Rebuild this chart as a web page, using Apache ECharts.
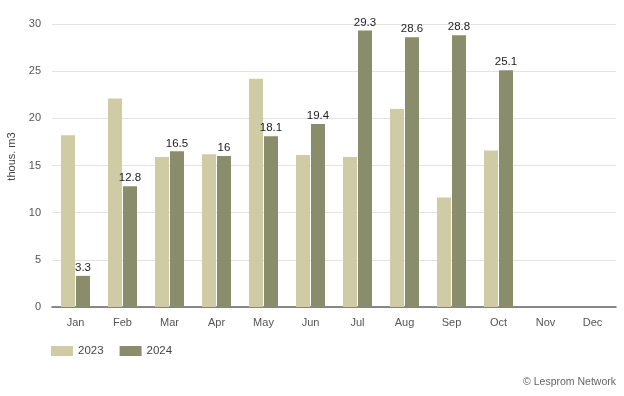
<!DOCTYPE html>
<html><head><meta charset="utf-8">
<script src="https://cdn.jsdelivr.net/npm/echarts@6/dist/echarts.min.js"></script>
<style>html,body{margin:0;padding:0;background:#fff}#c{width:624px;height:396px}</style>
</head><body><div id="c"></div>
<script>
var months = ['Jan','Feb','Mar','Apr','May','Jun','Jul','Aug','Sep','Oct','Nov','Dec'];
var values2023 = [18.2, 22.1, 15.9, 16.2, 24.2, 16.1, 15.9, 21.0, 11.6, 16.6, null, null];
var values2024 = [3.3, 12.8, 16.5, 16, 18.1, 19.4, 29.3, 28.6, 28.8, 25.1, null, null];
var yTicks = [0, 5, 10, 15, 20, 25, 30];

var chart = echarts.init(document.getElementById('c'));
chart.setOption({
  animation: false,
  textStyle: {fontFamily: 'Liberation Sans, Arial, sans-serif'},
  grid: {left: 52, right: 8, top: 24, bottom: 89, containLabel: false, outerBoundsMode: 'none'},
  legend: {
    left: 46, top: 340, itemWidth: 22, itemHeight: 10, itemGap: 16,
    icon: 'rect',
    textStyle: {fontSize: 11.5, color: '#444', fontFamily: 'Liberation Sans, Arial, sans-serif'},
    data: ['2023', '2024']
  },
  graphic: [{
    type: 'text', right: 8, top: 377,
    style: {text: '© Lesprom Network', fontSize: 10.5, fill: '#666', fontFamily: 'Liberation Sans, Arial, sans-serif'}
  }],
  xAxis: {
    type: 'category', data: months,
    axisLine: {lineStyle: {color: '#666', width: 1.5}},
    axisTick: {show: false},
    axisLabel: {color: '#555', fontSize: 11, margin: 10}
  },
  yAxis: {
    type: 'value', min: yTicks[0], max: yTicks[yTicks.length - 1], interval: 5,
    name: 'thous. m3', nameLocation: 'middle', nameGap: 33, nameRotate: 90,
    nameTextStyle: {color: '#444', fontSize: 11, padding: [0, 0, 0, 18]},
    axisLine: {show: false}, axisTick: {show: false},
    axisLabel: {color: '#555', fontSize: 11, margin: 11},
    splitLine: {lineStyle: {color: '#e3e3e3', width: 1}}
  },
  series: [
    {name: '2023', type: 'bar', data: values2023, barWidth: 14, barGap: '7%',
     itemStyle: {color: '#cfcca5'}},
    {name: '2024', type: 'bar', data: values2024, barWidth: 14,
     itemStyle: {color: '#8a8d6b'},
     label: {show: true, position: 'top', distance: 2, color: '#222', fontSize: 11.5}}
  ]
});
</script></body></html>
